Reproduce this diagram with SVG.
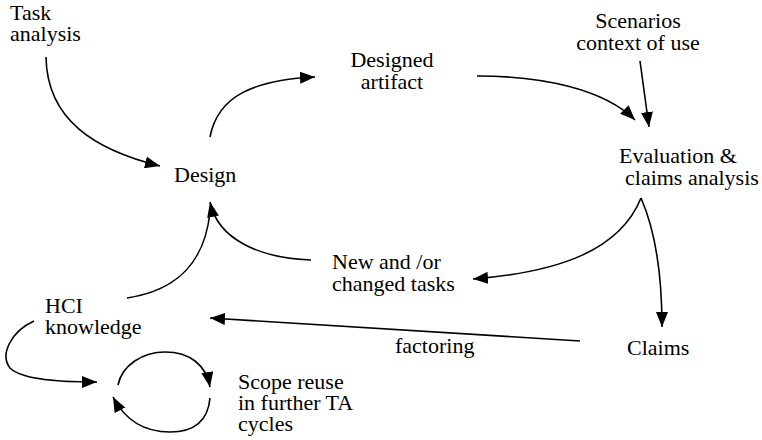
<svg xmlns="http://www.w3.org/2000/svg" width="762" height="440" viewBox="0 0 762 440">
<style>
text{font-family:"Liberation Serif","Times New Roman",serif;font-size:22px;fill:#000}
.c{fill:none;stroke:#000;stroke-width:1.6}
</style>
<defs>
<marker id="ah" markerUnits="userSpaceOnUse" markerWidth="16" markerHeight="12" refX="15" refY="6" orient="auto">
<path d="M0,0 L15,6 L0,12 Z" fill="#000"/>
</marker>
</defs>
<rect width="762" height="440" fill="#fff"/>
<g id="connectors">
<path class="c" d="M46,57 C 47,120 95,150 160,166" marker-end="url(#ah)"/>
<path class="c" d="M210,137 C 218,95 255,80 315,77" marker-end="url(#ah)"/>
<path class="c" d="M477,76 C 545,76 605,90 635,120" marker-end="url(#ah)"/>
<path class="c" d="M640,61 L649,127" marker-end="url(#ah)"/>
<path class="c" d="M641,198 C 620,250 560,272 473,279" marker-end="url(#ah)"/>
<path class="c" d="M641,198 C 655,230 662,270 662,327" marker-end="url(#ah)"/>
<path class="c" d="M311,260 C 260,258 218,240 210,202" marker-end="url(#ah)"/>
<path class="c" d="M127,298 C 180,290 205,260 210,212"/>
<path class="c" d="M580,341 L210,318" marker-end="url(#ah)"/>
<path class="c" d="M34,321 C 10,332 0,355 10,368 C 22,380 60,382 97,382" marker-end="url(#ah)"/>
<path class="c" d="M118,385 C 122,365 143,352 165,352 C 190,352 206,365 210,387" marker-end="url(#ah)"/>
<path class="c" d="M210,398 C 208,420 195,432 170,432 C 145,432 125,420 113,397" marker-end="url(#ah)"/>
</g>
<g id="task-analysis"><text x="10" y="20">Task</text><text x="10" y="41">analysis</text></g>
<g id="design"><text x="174" y="182">Design</text></g>
<g id="designed-artifact"><text x="392" y="67" text-anchor="middle">Designed</text><text x="392" y="89" text-anchor="middle">artifact</text></g>
<g id="scenarios"><text x="638" y="28" text-anchor="middle">Scenarios</text><text x="638" y="50" text-anchor="middle">context of use</text></g>
<g id="evaluation"><text x="619" y="163">Evaluation &amp;</text><text x="625" y="185">claims analysis</text></g>
<g id="new-tasks"><text x="332" y="269">New and /or</text><text x="332" y="291">changed tasks</text></g>
<g id="hci-knowledge"><text x="45" y="313">HCI</text><text x="45" y="334">knowledge</text></g>
<g id="factoring"><text x="395" y="353">factoring</text></g>
<g id="claims"><text x="627" y="355">Claims</text></g>
<g id="scope-reuse"><text x="238" y="389">Scope reuse</text><text x="238" y="410">in further TA</text><text x="238" y="431">cycles</text></g>
</svg>
